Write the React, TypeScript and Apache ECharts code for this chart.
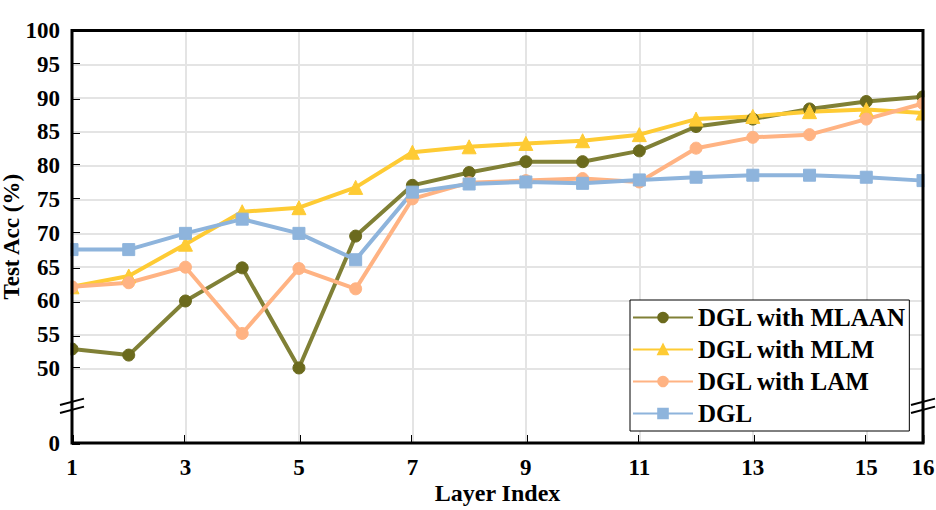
import React, { useEffect, useRef } from "react";
import * as echarts from "echarts";

const layers = [1, 2, 3, 4, 5, 6, 7, 8, 9, 10, 11, 12, 13, 14, 15, 16];
const mlaan = [52.9, 52.0, 60.0, 64.9, 50.1, 69.6, 77.1, 79.0, 80.6, 80.6, 82.2, 85.8, 86.9, 88.4, 89.5, 90.2];
const mlm = [62.1, 63.7, 68.4, 73.2, 73.8, 76.8, 82.0, 82.8, 83.3, 83.7, 84.6, 86.9, 87.3, 88.0, 88.3, 87.8];
const lam = [62.1, 62.7, 65.0, 55.2, 64.8, 61.8, 75.1, 77.5, 77.8, 78.1, 77.6, 82.6, 84.2, 84.6, 86.9, 89.2];
const dgl = [67.6, 67.6, 70.0, 72.1, 70.0, 66.1, 76.1, 77.3, 77.6, 77.4, 77.9, 78.3, 78.6, 78.6, 78.3, 77.8];

const seriesNames = ["DGL with MLAAN", "DGL with MLM", "DGL with LAM", "DGL"];
const xTickLabels = [1, 3, 5, 7, 9, 11, 13, 15, 16];
const xGridValues = [3, 5, 7, 9, 11, 13, 15];
const yTickLabels = [0, 50, 55, 60, 65, 70, 75, 80, 85, 90, 95, 100];
const yGridValues = [50, 55, 60, 65, 70, 75, 80, 85, 90, 95];

// Broken axis: the "0" tick sits at this position of the value axis
const ZERO_POS = 39;
const BREAK_POS = 44.5;

const FONT = "'Liberation Serif', 'Times New Roman', serif";

export default function App() {
  const ref = useRef<HTMLDivElement>(null);

  useEffect(() => {
    document.body.style.margin = "0";
    if (!ref.current) return;
    const chart = echarts.init(ref.current, null, { renderer: "svg" });

    const mapY = (v: number) => (v === 0 ? ZERO_POS : v);
    const yTicks = yTickLabels.map(mapY);

    const mk = (
      name: string,
      data: number[],
      lineColor: string,
      markerColor: string,
      symbol: string,
      size: number
    ) => ({
      name,
      type: "line",
      data: layers.map((x, i) => [x, data[i]]),
      symbol,
      symbolSize: size,
      showSymbol: true,
      lineStyle: { color: lineColor, width: 4 },
      itemStyle: { color: markerColor, borderColor: markerColor, borderWidth: 1, opacity: 1 },
      z: 3,
      emphasis: { disabled: true },
    });

    chart.setOption({
      animation: false,
      backgroundColor: "#fff",
      grid: { left: 72, right: 13, top: 30.5, bottom: 67, containLabel: false, outerBoundsMode: "none" },
      xAxis: {
        type: "value",
        min: 1,
        max: 16,
        name: "Layer Index",
        nameLocation: "middle",
        nameGap: 38,
        nameMoveOverlap: false,
        nameTextStyle: { fontFamily: FONT, fontWeight: "bold", fontSize: 24, color: "#000" },
        axisLine: { show: false },
        axisTick: { show: true, inside: true, length: 8, customValues: xTickLabels, lineStyle: { color: "#000", width: 3 } },
        axisLabel: {
          customValues: xTickLabels,
          margin: 13,
          fontFamily: FONT,
          fontWeight: "bold",
          fontSize: 23,
          color: "#000",
        },
        splitLine: { show: false },
      },
      yAxis: {
        type: "value",
        min: ZERO_POS,
        max: 100,
        name: "Test Acc (%)",
        nameLocation: "middle",
        nameGap: 49,
        nameMoveOverlap: false,
        nameTextStyle: { fontFamily: FONT, fontWeight: "bold", fontSize: 23, color: "#000" },
        axisLine: { show: false },
        axisTick: { show: true, inside: true, length: 8, customValues: yTicks, lineStyle: { color: "#000", width: 3 } },
        axisLabel: {
          customValues: yTicks,
          margin: 12,
          fontFamily: FONT,
          fontWeight: "bold",
          fontSize: 23,
          color: "#000",
          formatter: (v: number) => (v === ZERO_POS ? "0" : String(v)),
        },
        splitLine: { show: false },
      },
      legend: {
        orient: "vertical",
        left: 630,
        top: 300,
        itemWidth: 60,
        itemHeight: 12,
        itemGap: 7,
        padding: [5, 3, 5, 2],
        borderColor: "#000",
        borderWidth: 1,
        backgroundColor: "#fff",
        data: seriesNames,
        textStyle: { fontFamily: FONT, fontWeight: "bold", fontSize: 25, color: "#000" },
      },
      series: [
        {
          type: "line",
          name: "grid",
          data: [],
          z: 1,
          silent: true,
          markLine: {
            z: 1,
            silent: true,
            symbol: ["none", "none"],
            label: { show: false },
            emphasis: { disabled: true },
            lineStyle: { color: "#e4e4e4", width: 2, type: "solid" },
            data: [
              ...yGridValues.map((v) => ({ yAxis: v })),
              ...xGridValues.map((v) => ({ xAxis: v })),
            ],
          },
        },
        mk(seriesNames[0], mlaan, "#808036", "#6b6a1d", "circle", 12),
        mk(seriesNames[1], mlm, "#fecb34", "#fecb34", "triangle", 14),
        mk(seriesNames[2], lam, "#ffb383", "#ffb383", "circle", 12),
        mk(seriesNames[3], dgl, "#8eb4dc", "#8eb4dc", "rect", 12),
      ],
    });

    const tl = chart.convertToPixel({ gridIndex: 0 }, [1, 100]) as number[];
    const br = chart.convertToPixel({ gridIndex: 0 }, [16, ZERO_POS]) as number[];
    const yb = (chart.convertToPixel({ gridIndex: 0 }, [1, BREAK_POS]) as number[])[1];

    const breakLines: any[] = [];
    [tl[0], br[0]].forEach((x0) => {
      [-4, 4].forEach((dy) => {
        breakLines.push({
          type: "line",
          z: 70,
          silent: true,
          shape: { x1: x0 - 12, y1: yb + dy + 3.2, x2: x0 + 12, y2: yb + dy - 3.2 },
          style: { stroke: "#000", lineWidth: 2 },
        });
      });
    });

    chart.setOption({
      graphic: {
        elements: [
          {
            type: "rect",
            z: 50,
            silent: true,
            shape: { x: tl[0] - 9, y: tl[1] - 10, width: 7.5, height: br[1] - tl[1] + 10 },
            style: { fill: "#fff" },
          },
          {
            type: "rect",
            z: 50,
            silent: true,
            shape: { x: br[0] + 1.5, y: tl[1] - 10, width: 14, height: br[1] - tl[1] + 10 },
            style: { fill: "#fff" },
          },
          {
            type: "rect",
            z: 60,
            silent: true,
            shape: { x: tl[0], y: tl[1], width: br[0] - tl[0], height: br[1] - tl[1] },
            style: { fill: "none", stroke: "#000", lineWidth: 3 },
          },
          ...breakLines,
        ],
      },
    });

    return () => chart.dispose();
  }, []);

  return <div ref={ref} style={{ width: 936, height: 510 }} />;
}
